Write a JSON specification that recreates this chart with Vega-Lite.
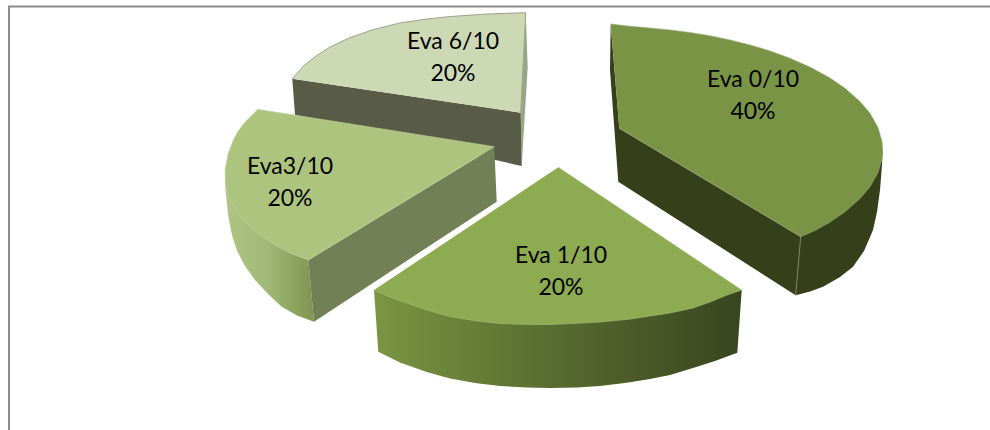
{
  "$schema": "https://vega.github.io/schema/vega-lite/v6.json",
  "width": 990,
  "height": 430,
  "padding": 0,
  "autosize": {"type": "none"},
  "background": "white",
  "view": {"stroke": null},
  "datasets": {
    "outlines": [
      {"s":"e6sliver","i":0,"x":525.7,"y":12.7},{"s":"e6sliver","i":1,"x":527.7,"y":66.7},{"s":"e6sliver","i":2,"x":521.7,"y":166},{"s":"e6sliver","i":3,"x":520.7,"y":112.7},
      {"s":"e6side","i":0,"x":292.3,"y":78.7},{"s":"e6side","i":1,"x":295,"y":115},{"s":"e6side","i":2,"x":521.7,"y":166},{"s":"e6side","i":3,"x":520.7,"y":112.7},
      {"s":"e6top","i":0,"x":292.3,"y":78.7},{"s":"e6top","i":1,"x":303,"y":66.5},{"s":"e6top","i":2,"x":315,"y":56.7},{"s":"e6top","i":3,"x":331,"y":46.5},{"s":"e6top","i":4,"x":348.3,"y":38.3},{"s":"e6top","i":5,"x":372,"y":30},{"s":"e6top","i":6,"x":398.3,"y":23.3},{"s":"e6top","i":7,"x":423,"y":19.5},{"s":"e6top","i":8,"x":448.3,"y":16.7},{"s":"e6top","i":9,"x":487,"y":14},{"s":"e6top","i":10,"x":525.7,"y":12.7},{"s":"e6top","i":11,"x":520.7,"y":112.7},
      {"s":"e3outer","i":0,"x":225,"y":170},{"s":"e3outer","i":1,"x":225.5,"y":190},{"s":"e3outer","i":2,"x":228.3,"y":216.7},{"s":"e3outer","i":3,"x":232,"y":235},{"s":"e3outer","i":4,"x":236.7,"y":250},{"s":"e3outer","i":5,"x":245,"y":266},{"s":"e3outer","i":6,"x":255,"y":280},{"s":"e3outer","i":7,"x":268,"y":294},{"s":"e3outer","i":8,"x":281.7,"y":306.7},{"s":"e3outer","i":9,"x":297,"y":315.5},{"s":"e3outer","i":10,"x":314,"y":321.7},{"s":"e3outer","i":11,"x":308.3,"y":260},
      {"s":"e3inner","i":0,"x":308.3,"y":260},{"s":"e3inner","i":1,"x":314,"y":321.7},{"s":"e3inner","i":2,"x":496.7,"y":201.7},{"s":"e3inner","i":3,"x":494.3,"y":146.7},
      {"s":"e3top","i":0,"x":257.7,"y":109.3},{"s":"e3top","i":1,"x":494.3,"y":146.7},{"s":"e3top","i":2,"x":308.3,"y":260},{"s":"e3top","i":3,"x":291,"y":253.5},{"s":"e3top","i":4,"x":275,"y":245},{"s":"e3top","i":5,"x":259,"y":234},{"s":"e3top","i":6,"x":245,"y":221.7},{"s":"e3top","i":7,"x":235.5,"y":210},{"s":"e3top","i":8,"x":228.3,"y":196.7},{"s":"e3top","i":9,"x":225.5,"y":184},{"s":"e3top","i":10,"x":225,"y":170},{"s":"e3top","i":11,"x":228,"y":154},{"s":"e3top","i":12,"x":233.3,"y":140},{"s":"e3top","i":13,"x":237.5,"y":132},{"s":"e3top","i":14,"x":245,"y":122},
      {"s":"e0side","i":0,"x":610.7,"y":24},{"s":"e0side","i":1,"x":610,"y":70},{"s":"e0side","i":2,"x":618.3,"y":181.7},{"s":"e0side","i":3,"x":795.7,"y":295.3},{"s":"e0side","i":4,"x":810,"y":291.5},{"s":"e0side","i":5,"x":823,"y":286.7},{"s":"e0side","i":6,"x":840,"y":277},{"s":"e0side","i":7,"x":853,"y":266.7},{"s":"e0side","i":8,"x":864,"y":251},{"s":"e0side","i":9,"x":873,"y":230},{"s":"e0side","i":10,"x":877,"y":212},{"s":"e0side","i":11,"x":880,"y":190},{"s":"e0side","i":12,"x":882,"y":165},{"s":"e0side","i":13,"x":882.7,"y":150},{"s":"e0side","i":14,"x":800.7,"y":236.7},{"s":"e0side","i":15,"x":619.3,"y":128.3},
      {"s":"e0top","i":0,"x":610.7,"y":24},{"s":"e0top","i":1,"x":630,"y":26.2},{"s":"e0top","i":2,"x":650,"y":28},{"s":"e0top","i":3,"x":670,"y":29.9},{"s":"e0top","i":4,"x":690,"y":32.4},{"s":"e0top","i":5,"x":710,"y":35.8},{"s":"e0top","i":6,"x":730,"y":39.9},{"s":"e0top","i":7,"x":750,"y":44.9},{"s":"e0top","i":8,"x":770,"y":50.9},{"s":"e0top","i":9,"x":790,"y":58.2},{"s":"e0top","i":10,"x":810,"y":67},{"s":"e0top","i":11,"x":830,"y":77.9},{"s":"e0top","i":12,"x":845,"y":88.2},{"s":"e0top","i":13,"x":860,"y":101.4},{"s":"e0top","i":14,"x":870,"y":113.3},{"s":"e0top","i":15,"x":878,"y":127.4},{"s":"e0top","i":16,"x":882,"y":141.3},{"s":"e0top","i":17,"x":882.7,"y":150},{"s":"e0top","i":18,"x":882,"y":158.7},{"s":"e0top","i":19,"x":878,"y":172.6},{"s":"e0top","i":20,"x":870,"y":186.7},{"s":"e0top","i":21,"x":860,"y":198.6},{"s":"e0top","i":22,"x":845,"y":211.8},{"s":"e0top","i":23,"x":830,"y":222.1},{"s":"e0top","i":24,"x":815,"y":230.5},{"s":"e0top","i":25,"x":800.7,"y":236.7},{"s":"e0top","i":26,"x":619.3,"y":128.3},
      {"s":"e0edge","i":0,"x":800.7,"y":236.7},{"s":"e0edge","i":1,"x":795.7,"y":295.3},
      {"s":"e1side","i":0,"x":374,"y":290},{"s":"e1side","i":1,"x":378.3,"y":351.7},{"s":"e1side","i":2,"x":400,"y":362.5},{"s":"e1side","i":3,"x":426.7,"y":372},{"s":"e1side","i":4,"x":450,"y":378.5},{"s":"e1side","i":5,"x":476.7,"y":383.3},{"s":"e1side","i":6,"x":500,"y":386},{"s":"e1side","i":7,"x":526.7,"y":387.5},{"s":"e1side","i":8,"x":550,"y":388},{"s":"e1side","i":9,"x":576.7,"y":387.5},{"s":"e1side","i":10,"x":600,"y":386},{"s":"e1side","i":11,"x":626.7,"y":382.7},{"s":"e1side","i":12,"x":650,"y":379},{"s":"e1side","i":13,"x":670,"y":375},{"s":"e1side","i":14,"x":693,"y":368},{"s":"e1side","i":15,"x":715,"y":361},{"s":"e1side","i":16,"x":737.3,"y":352.7},{"s":"e1side","i":17,"x":741.7,"y":290},
      {"s":"e1top","i":0,"x":558.3,"y":167.3},{"s":"e1top","i":1,"x":741.7,"y":290},{"s":"e1top","i":2,"x":727,"y":295},{"s":"e1top","i":3,"x":710,"y":302},{"s":"e1top","i":4,"x":693,"y":308},{"s":"e1top","i":5,"x":670,"y":313},{"s":"e1top","i":6,"x":650,"y":316},{"s":"e1top","i":7,"x":626.7,"y":319.5},{"s":"e1top","i":8,"x":600,"y":322},{"s":"e1top","i":9,"x":576.7,"y":323.3},{"s":"e1top","i":10,"x":550,"y":324.5},{"s":"e1top","i":11,"x":526.7,"y":324.5},{"s":"e1top","i":12,"x":500,"y":323.5},{"s":"e1top","i":13,"x":476.7,"y":321},{"s":"e1top","i":14,"x":450,"y":316.5},{"s":"e1top","i":15,"x":426.7,"y":310},{"s":"e1top","i":16,"x":408,"y":303.5},{"s":"e1top","i":17,"x":390,"y":297},{"s":"e1top","i":18,"x":374,"y":290}
    ],
    "frame": [
      {"x":9,"y":430,"i":0},{"x":9,"y":6.5,"i":1},{"x":990,"y":6.5,"i":2}
    ],
    "labels": [
      {"x":753,"y":80,"t":"Eva 0/10\n40%"},
      {"x":561,"y":256,"t":"Eva 1/10\n20%"},
      {"x":290,"y":167,"t":"Eva3/10\n20%"},
      {"x":453,"y":42,"t":"Eva 6/10\n20%"}
    ]
  },
  "data": {"name": "outlines"},
  "encoding": {
    "x": {"field": "x", "type": "quantitative", "scale": {"domain": [0, 990], "nice": false, "zero": false}, "axis": null},
    "y": {"field": "y", "type": "quantitative", "scale": {"domain": [430, 0], "nice": false, "zero": false}, "axis": null},
    "order": {"field": "i", "type": "quantitative"}
  },
  "layer": [
    {"data": {"name": "frame"}, "mark": {"type": "line", "stroke": "#8c8c8c", "strokeWidth": 2}},
    {"transform": [{"filter": "datum.s === 'e6sliver'"}], "mark": {"type": "line", "fill": "#9aa588", "strokeWidth": 0}},
    {"transform": [{"filter": "datum.s === 'e6side'"}], "mark": {"type": "line", "fill": "#585b45", "strokeWidth": 0}},
    {"transform": [{"filter": "datum.s === 'e6top'"}], "mark": {"type": "line", "fill": "#cdd9b4", "stroke": "#9aa58a", "strokeWidth": 1}},
    {"transform": [{"filter": "datum.s === 'e3outer'"}], "mark": {"type": "line", "strokeWidth": 0, "fill": {"x1": 0, "y1": 0, "x2": 1, "y2": 0, "gradient": "linear", "stops": [{"offset": 0, "color": "#aec583"}, {"offset": 0.5, "color": "#a0b775"}, {"offset": 1, "color": "#7f9450"}]}}},
    {"transform": [{"filter": "datum.s === 'e3inner'"}], "mark": {"type": "line", "fill": "#728055", "strokeWidth": 0}},
    {"transform": [{"filter": "datum.s === 'e3top'"}], "mark": {"type": "line", "fill": "#adc47f", "stroke": "#c5d3a6", "strokeWidth": 0.6}},
    {"transform": [{"filter": "datum.s === 'e0side'"}], "mark": {"type": "line", "fill": "#353f19", "strokeWidth": 0}},
    {"transform": [{"filter": "datum.s === 'e0top'"}], "mark": {"type": "line", "fill": "#7a9446", "stroke": "#9aaa7c", "strokeWidth": 0.6}},
    {"transform": [{"filter": "datum.s === 'e0edge'"}], "mark": {"type": "line", "stroke": "#7f8a68", "strokeWidth": 1}},
    {"transform": [{"filter": "datum.s === 'e1side'"}], "mark": {"type": "line", "strokeWidth": 0, "fill": {"x1": 0, "y1": 0, "x2": 1, "y2": 0, "gradient": "linear", "stops": [{"offset": 0, "color": "#7a9542"}, {"offset": 0.5, "color": "#576b2e"}, {"offset": 1, "color": "#39451f"}]}}},
    {"transform": [{"filter": "datum.s === 'e1top'"}], "mark": {"type": "line", "fill": "#8dab50", "stroke": "#a9bd84", "strokeWidth": 0.6}},
    {
      "data": {"name": "labels"},
      "mark": {"type": "text", "font": "Lato", "fontSize": 23, "lineHeight": 32, "lineBreak": "\n", "align": "center", "baseline": "middle", "color": "#000000"},
      "encoding": {"text": {"field": "t"}, "order": null}
    }
  ]
}
